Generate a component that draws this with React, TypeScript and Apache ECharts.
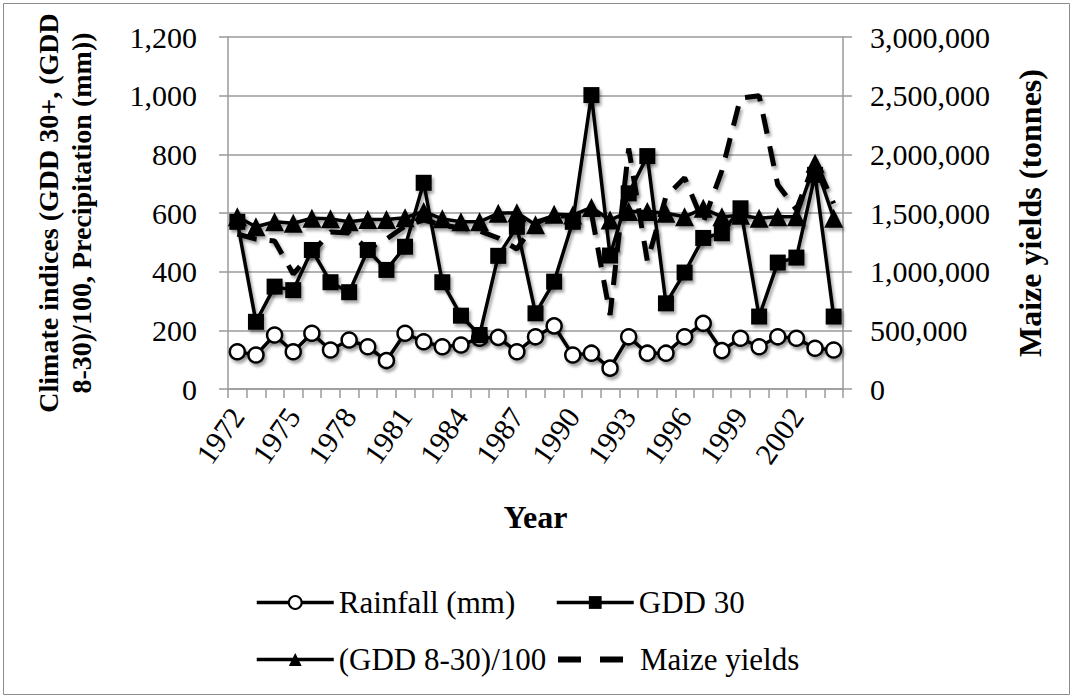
import React, { useEffect, useRef } from "react";
import * as echarts from "echarts";

const years = [
  "1972", "1973", "1974", "1975", "1976", "1977", "1978", "1979", "1980", "1981", "1982",
  "1983", "1984", "1985", "1986", "1987", "1988", "1989", "1990", "1991", "1992", "1993",
  "1994", "1995", "1996", "1997", "1998", "1999", "2000", "2001", "2002", "2003", "2004",
];

const rainfall = [
  127, 116, 184, 127, 190, 133, 167, 144, 97, 190, 161,
  144, 150, 173, 176, 127, 178, 215, 116, 122, 71, 178,
  122, 122, 178, 224, 131, 173, 144, 178, 173, 139, 133,
];

const gdd30 = [
  570, 229, 349, 337, 474, 364, 330, 474, 406, 485, 703,
  364, 250, 184, 454, 553, 258, 366, 570, 1002, 455, 667,
  794, 292, 397, 515, 531, 616, 247, 431, 448, 730, 247,
];

const gdd830 = [
  587, 553, 570, 565, 582, 580, 570, 578, 578, 584, 605,
  580, 570, 570, 599, 601, 560, 596, 593, 619, 576, 605,
  605, 599, 587, 616, 587, 592, 582, 587, 587, 770, 582,
];

const maize = [
  1321000, 1278000, 1261000, 980000, 1160000, 1338000, 1330000, 1193000, 1278000, 1389000, 1440000,
  1398000, 1372000, 1347000, 1287000, 1193000, 1420000, 1470000, 1480000, 1500000, 630000, 2050000,
  1090000, 1640000, 1800000, 1420000, 1860000, 2480000, 2500000, 1740000, 1530000, 1940000, 1580000,
];

const leftTicks = { min: 0, max: 1200, interval: 200 };
const rightTicks = { min: 0, max: 3000000, interval: 500000 };

const FONT = "'Liberation Serif', 'Times New Roman', serif";
const GREY = "#9a9a9a";

const fmt = (v: number) => v.toLocaleString("en-US");

const shadow = {
  shadowColor: "rgba(0,0,0,0.35)",
  shadowBlur: 3,
  shadowOffsetX: 2,
  shadowOffsetY: 3,
};

export default function App() {
  const ref = useRef<HTMLDivElement>(null);

  useEffect(() => {
    const chart = echarts.init(ref.current!, null, { renderer: "svg" });
    const legendText = { fontFamily: FONT, fontSize: 31, color: "#000" };
    const legendBase = {
      itemWidth: 77,
      itemHeight: 16,
      itemGap: 5,
      padding: 0,
      textStyle: legendText,
      selectedMode: false,
      lineStyle: { width: 3.5 },
    };
    chart.setOption({
      animation: false,
      backgroundColor: "#fff",
      textStyle: { fontFamily: FONT, color: "#000" },
      graphic: [
        {
          type: "rect",
          shape: { x: 3.5, y: 3.5, width: 1066, height: 691 },
          style: { fill: "none", stroke: "#8c8c8c", lineWidth: 1 },
          silent: true,
        },
      ],
      grid: { left: 228, right: 230, top: 37, bottom: 309, containLabel: false, outerBoundsMode: "none" },
      legend: [
        { ...legendBase, data: ["Rainfall (mm)"], left: 255, top: 587 },
        { ...legendBase, data: ["GDD 30"], left: 555, top: 587 },
        { ...legendBase, data: ["(GDD 8-30)/100"], left: 255, top: 644 },
        {
          ...legendBase,
          data: [
            {
              name: "Maize yields",
              itemStyle: { opacity: 0 },
            },
          ],
          lineStyle: { width: 6, type: [23, 19], cap: "butt" },
          left: 555,
          top: 644,
        },
      ],
      xAxis: {
        type: "category",
        data: years,
        boundaryGap: true,
        name: "Year",
        nameLocation: "middle",
        nameGap: 112,
        nameTextStyle: { fontFamily: FONT, fontSize: 32, fontWeight: "bold", color: "#000" },
        axisLine: { lineStyle: { color: GREY, width: 1.5 } },
        axisTick: { show: true, interval: 0, length: 9, lineStyle: { color: GREY, width: 1.5 } },
        axisLabel: {
          interval: 2,
          rotate: 55,
          margin: 22,
          fontFamily: FONT,
          fontSize: 30,
          color: "#000",
        },
        splitLine: { show: false },
      },
      yAxis: [
        {
          type: "value",
          ...leftTicks,
          position: "left",
          name: "Climate indices (GDD 30+, (GDD\n8-30)/100, Precipitation (mm))",
          nameLocation: "middle",
          nameRotate: 90,
          nameGap: 130,
          nameTextStyle: {
            fontFamily: FONT,
            fontSize: 28,
            fontWeight: "bold",
            color: "#000",
            lineHeight: 33,
            align: "center",
          },
          axisLine: { show: true, lineStyle: { color: GREY, width: 1.5 } },
          axisTick: { show: true, length: 9, lineStyle: { color: GREY, width: 1.5 } },
          axisLabel: { margin: 31, fontFamily: FONT, fontSize: 30, color: "#000", formatter: fmt },
          splitLine: { show: true, lineStyle: { color: GREY, width: 1.5 } },
        },
        {
          type: "value",
          ...rightTicks,
          position: "right",
          name: "Maize yields (tonnes)",
          nameLocation: "middle",
          nameRotate: 90,
          nameGap: 168,
          nameTextStyle: {
            fontFamily: FONT,
            fontSize: 32,
            fontWeight: "bold",
            color: "#000",
            lineHeight: 38,
          },
          axisLine: { show: true, lineStyle: { color: GREY, width: 1.5 } },
          axisTick: { show: true, length: 9, lineStyle: { color: GREY, width: 1.5 } },
          axisLabel: { margin: 27, fontFamily: FONT, fontSize: 30, color: "#000", formatter: fmt },
          splitLine: { show: false },
        },
      ],
      series: [
        {
          name: "Maize yields",
          type: "line",
          yAxisIndex: 1,
          data: maize,
          showSymbol: false,
          symbol: "none",
          lineStyle: { color: "#000", width: 5, type: [20, 13], cap: "butt", ...shadow },
          itemStyle: { color: "#000" },
          z: 2,
        },
        {
          name: "Rainfall (mm)",
          type: "line",
          data: rainfall,
          symbol: "circle",
          symbolSize: 15,
          showAllSymbol: true,
          lineStyle: { color: "#000", width: 3.5, ...shadow },
          itemStyle: { color: "#fff", borderColor: "#000", borderWidth: 2.5, ...shadow },
          z: 3,
        },
        {
          name: "GDD 30",
          type: "line",
          data: gdd30,
          symbol: "rect",
          symbolSize: 16,
          showAllSymbol: true,
          lineStyle: { color: "#000", width: 3.5, ...shadow },
          itemStyle: { color: "#000", ...shadow },
          z: 3,
        },
        {
          name: "(GDD 8-30)/100",
          type: "line",
          data: gdd830,
          symbol: "triangle",
          symbolSize: 19,
          showAllSymbol: true,
          lineStyle: { color: "#000", width: 3.5, ...shadow },
          itemStyle: { color: "#000", ...shadow },
          z: 3,
        },
      ],
    });
    return () => chart.dispose();
  }, []);

  return (
    <div
      ref={ref}
      style={{ position: "absolute", left: 0, top: 0, width: 1073, height: 698, background: "#fff" }}
    />
  );
}
